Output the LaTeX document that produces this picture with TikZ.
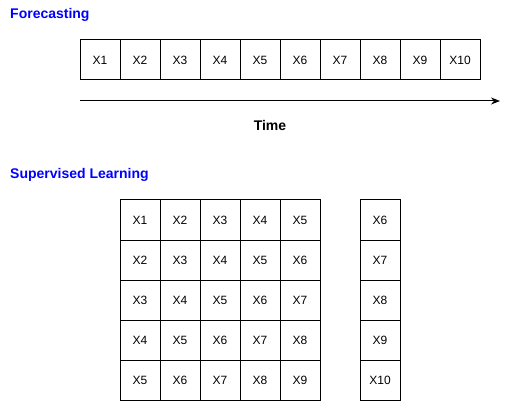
\documentclass[tikz,border=0pt]{standalone}
\usepackage{fontspec}
\setmainfont{Liberation Sans}
\usepackage{tikz}
\usetikzlibrary{positioning}
\usetikzlibrary{arrows.meta}

\tikzset{
  cell/.style={draw,line width=1pt,minimum size=40pt,inner sep=0pt,outer sep=0pt,font=\fontsize{12}{14}\selectfont},
  heading/.style={anchor=west,inner sep=0pt,text=blue,font=\fontsize{14}{16}\selectfont\bfseries},
  timeline/.style={line width=1pt,-{Stealth[length=9pt,width=7pt]}}
}

\begin{document}
\begin{tikzpicture}[x=1pt,y=-1pt]
        \useasboundingbox (0,0) rectangle (509,401);

        \node [heading] (forecast) at (10,15) {Forecasting};
        \node [heading] (supervised) at (10,175) {Supervised Learning};

        \node [cell] (f1) at (100,60) {X1};
        \node [cell] (f2) at (140,60) {X2};
        \node [cell] (f3) at (180,60) {X3};
        \node [cell] (f4) at (220,60) {X4};
        \node [cell] (f5) at (260,60) {X5};
        \node [cell] (f6) at (300,60) {X6};
        \node [cell] (f7) at (340,60) {X7};
        \node [cell] (f8) at (380,60) {X8};
        \node [cell] (f9) at (420,60) {X9};
        \node [cell] (f10) at (460,60) {X10};

        \coordinate (tstart) at (80,101);
        \coordinate (tend) at (500,101);
        \draw [timeline] (tstart) -- (tend);
        \node [font=\fontsize{14}{16}\selectfont\bfseries] (time) at (270,125) {Time};

        \node [cell] (s11) at (140,220) {X1};
        \node [cell] (s12) at (180,220) {X2};
        \node [cell] (s13) at (220,220) {X3};
        \node [cell] (s14) at (260,220) {X4};
        \node [cell] (s15) at (300,220) {X5};

        \node [cell] (s21) at (140,260) {X2};
        \node [cell] (s22) at (180,260) {X3};
        \node [cell] (s23) at (220,260) {X4};
        \node [cell] (s24) at (260,260) {X5};
        \node [cell] (s25) at (300,260) {X6};

        \node [cell] (s31) at (140,300) {X3};
        \node [cell] (s32) at (180,300) {X4};
        \node [cell] (s33) at (220,300) {X5};
        \node [cell] (s34) at (260,300) {X6};
        \node [cell] (s35) at (300,300) {X7};

        \node [cell] (s41) at (140,340) {X4};
        \node [cell] (s42) at (180,340) {X5};
        \node [cell] (s43) at (220,340) {X6};
        \node [cell] (s44) at (260,340) {X7};
        \node [cell] (s45) at (300,340) {X8};

        \node [cell] (s51) at (140,380) {X5};
        \node [cell] (s52) at (180,380) {X6};
        \node [cell] (s53) at (220,380) {X7};
        \node [cell] (s54) at (260,380) {X8};
        \node [cell] (s55) at (300,380) {X9};

        \node [cell] (y1) at (380,220) {X6};
        \node [cell] (y2) at (380,260) {X7};
        \node [cell] (y3) at (380,300) {X8};
        \node [cell] (y4) at (380,340) {X9};
        \node [cell] (y5) at (380,380) {X10};
      \end{tikzpicture}
\end{document}
